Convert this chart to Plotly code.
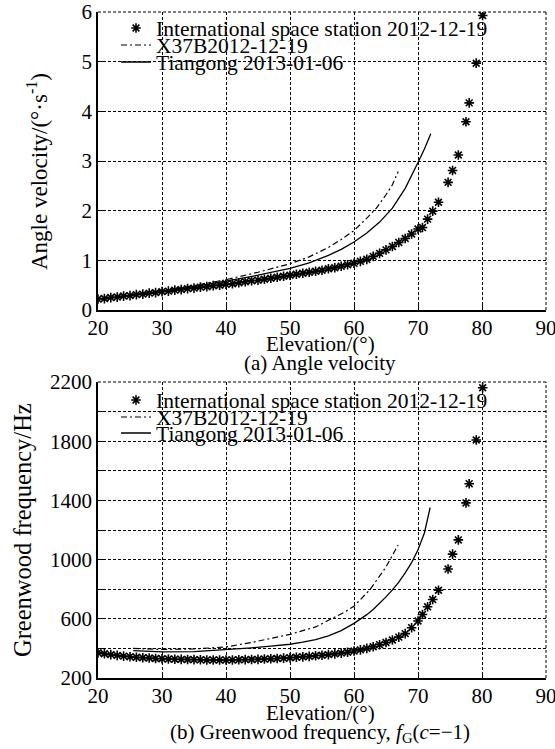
import plotly.graph_objects as go

# elevation (deg) of the ISS samples, shared by both panels
iss_elev = [20, 21, 22, 23, 24, 25, 26, 27, 28, 29,
            30, 31, 32, 33, 34, 35, 36, 37, 38, 39,
            40, 41, 42, 43, 44, 45, 46, 47, 48, 49,
            50, 51, 52, 53, 54, 55, 56, 57, 58, 59,
            60, 61, 62, 63, 64, 65, 66, 67, 68, 69,
            70, 70.7, 71.5, 72.3, 73.2, 74.7, 75.4, 76.3, 77.5, 78.0, 79.1, 80.1]

# (a) angle velocity, deg/s
iss_vel = [0.22, 0.23, 0.25, 0.26, 0.28, 0.29, 0.31, 0.32, 0.34, 0.35,
           0.37, 0.38, 0.40, 0.41, 0.43, 0.44, 0.46, 0.47, 0.49, 0.50,
           0.52, 0.53, 0.55, 0.57, 0.59, 0.60, 0.62, 0.64, 0.66, 0.68,
           0.70, 0.72, 0.74, 0.76, 0.78, 0.80, 0.83, 0.85, 0.88, 0.91,
           0.94, 0.98, 1.02, 1.08, 1.14, 1.21, 1.28, 1.36, 1.44, 1.53,
           1.63, 1.66, 1.83, 1.99, 2.17, 2.57, 2.81, 3.12, 3.79, 4.17, 4.97, 5.93]

x37b_elev_a = [25, 30, 35, 40, 45, 50, 53, 56, 58, 60, 62, 63.5, 65, 66, 66.9]
x37b_vel = [0.31, 0.39, 0.49, 0.61, 0.76, 0.93, 1.07, 1.26, 1.42, 1.60, 1.85, 2.05, 2.32, 2.52, 2.79]

tg_elev_a = [25, 30, 35, 40, 45, 50, 53, 56, 58, 60, 62, 64, 66, 68, 69, 70, 71, 72]
tg_vel = [0.30, 0.38, 0.47, 0.58, 0.70, 0.84, 0.95, 1.10, 1.22, 1.37, 1.55, 1.77, 2.05, 2.45, 2.70, 2.97, 3.24, 3.55]

# (b) Greenwood frequency, Hz
iss_fg = [370, 364, 358, 353, 348, 344, 340, 337, 335, 332,
          330, 328, 327, 326, 325, 324, 323, 322, 322, 322,
          322, 322, 323, 324, 325, 326, 328, 330, 332, 334,
          337, 340, 343, 346, 350, 354, 358, 363, 368, 374,
          382, 390, 400, 411, 425, 440, 457, 476, 500, 540,
          585, 629, 681, 730, 793, 936, 1037, 1133, 1383, 1513, 1808, 2161]

x37b_elev_b = [25.5, 30, 35, 40, 44, 47, 50, 54, 57, 58.5, 60, 62.5, 65, 66.9]
x37b_fg = [400, 393, 396, 410, 440, 465, 495, 545, 610, 645, 685, 797, 950, 1099]

tg_elev_b = [25.5, 30, 35, 40, 44, 47, 50, 52, 54, 56, 58, 60, 61, 62, 63, 64, 65, 66, 67, 68, 69, 70, 71, 71.9]
tg_fg = [385, 376, 378, 390, 404, 415, 428, 442, 460, 484, 520, 569, 598, 628, 663, 703, 748, 795,
         848, 910, 980, 1066, 1180, 1352]

names = ['International space station 2012-12-19', 'X37B2012-12-19', 'Tiangong 2013-01-06']

FONT = 'Liberation Serif'
W, H = 555, 749


def px(X):
    return X / W


def py(Y):
    return 1 - Y / H


star = dict(symbol='asterisk-open', size=8, color='black', line=dict(color='black', width=1.6))
dashdot = dict(color='black', width=1.2, dash='6px,3px,2px,3px')
solid = dict(color='black', width=1.3)

fig = go.Figure()

# panel (a)
fig.add_trace(go.Scatter(x=iss_elev, y=iss_vel, mode='markers', marker=star, name=names[0],
                         xaxis='x', yaxis='y', legend='legend'))
fig.add_trace(go.Scatter(x=x37b_elev_a, y=x37b_vel, mode='lines', line=dashdot, name=names[1],
                         xaxis='x', yaxis='y', legend='legend2'))
fig.add_trace(go.Scatter(x=tg_elev_a, y=tg_vel, mode='lines', line=solid, name=names[2],
                         xaxis='x', yaxis='y', legend='legend3'))

# panel (b)
fig.add_trace(go.Scatter(x=iss_elev, y=iss_fg, mode='markers', marker=star, name=names[0],
                         xaxis='x2', yaxis='y2', legend='legend4'))
fig.add_trace(go.Scatter(x=x37b_elev_b, y=x37b_fg, mode='lines', line=dashdot, name=names[1],
                         xaxis='x2', yaxis='y2', legend='legend5'))
fig.add_trace(go.Scatter(x=tg_elev_b, y=tg_fg, mode='lines', line=solid, name=names[2],
                         xaxis='x2', yaxis='y2', legend='legend6'))

GRID_DASH = '3px,2px'
tickfont = dict(family=FONT, size=21, color='black')
common = dict(showline=True, linecolor='black', linewidth=1.5, mirror=False,
              ticks='inside', ticklen=5, tickwidth=1, tickcolor='black',
              showgrid=True, gridcolor='black', gridwidth=1, griddash=GRID_DASH,
              zeroline=False, tickfont=tickfont, ticklabeloverflow='allow')
xextra = dict(range=[20, 90], dtick=10, ticklabelstandoff=-2)

xdom = [px(98), px(546)]
fig.update_layout(
    xaxis=dict(domain=xdom, anchor='y', **xextra, **common),
    yaxis=dict(domain=[py(310), py(12)], range=[0, 6], dtick=1, anchor='x', **common),
    xaxis2=dict(domain=xdom, anchor='y2', **xextra, **common),
    yaxis2=dict(domain=[py(678), py(382)], range=[200, 2200], tick0=200, dtick=400, anchor='x2',
                minor=dict(dtick=200, tick0=200, showgrid=True, gridcolor='black', gridwidth=1,
                           griddash=GRID_DASH, ticks='inside', ticklen=5, tickcolor='black'),
                **common),
)

# dotted top/right frame (grid lines at the range ends are not drawn by plotly)
for xa, ya in [('x', 'y'), ('x2', 'y2')]:
    for x0, y0, x1, y1 in [(0, 1, 1, 1), (1, 0, 1, 1)]:
        fig.add_shape(type='line', xref=f'{xa} domain', yref=f'{ya} domain',
                      x0=x0, y0=y0, x1=x1, y1=y1,
                      line=dict(color='black', width=1, dash=GRID_DASH))

# one legend per entry so the rows can sit tight like the original
leg_rows = {'legend': 28, 'legend2': 45, 'legend3': 62, 'legend4': 400, 'legend5': 417, 'legend6': 433}
for key, row in leg_rows.items():
    fig.update_layout({key: dict(x=px(116), y=py(row), xanchor='left', yanchor='middle',
                                 bgcolor='rgba(0,0,0,0)', borderwidth=0,
                                 font=dict(family=FONT, size=21.5, color='black'),
                                 itemwidth=30)})


def note(text, x, y, size=21, angle=0):
    fig.add_annotation(text=text, x=px(x), y=py(y), xref='paper', yref='paper',
                       xanchor='center', yanchor='middle', showarrow=False, textangle=angle,
                       font=dict(family=FONT, size=size, color='black'))


note('Elevation/(°)', 320, 344)
note('(a) Angle velocity', 320, 363)
note('Elevation/(°)', 320, 713)
note('(b) Greenwood frequency, <i>f</i><sub>G</sub>(<i>c</i>=−1)', 320, 733)
note('Angle velocity/(°·s<sup>-1</sup>)', 38, 172, size=23, angle=-90)
note('Greenwood frequency/Hz', 22, 530, size=24.5, angle=-90)

fig.update_layout(width=W, height=H, margin=dict(l=0, r=0, t=0, b=0, autoexpand=False),
                  paper_bgcolor='white', plot_bgcolor='white', showlegend=True,
                  font=dict(family=FONT, color='black'))

# drop the default 8px page margin so the figure fills the window, no modebar
fig.write_html("out.html", config={'displayModeBar': False},
               post_script="document.body.style.margin='0';")
